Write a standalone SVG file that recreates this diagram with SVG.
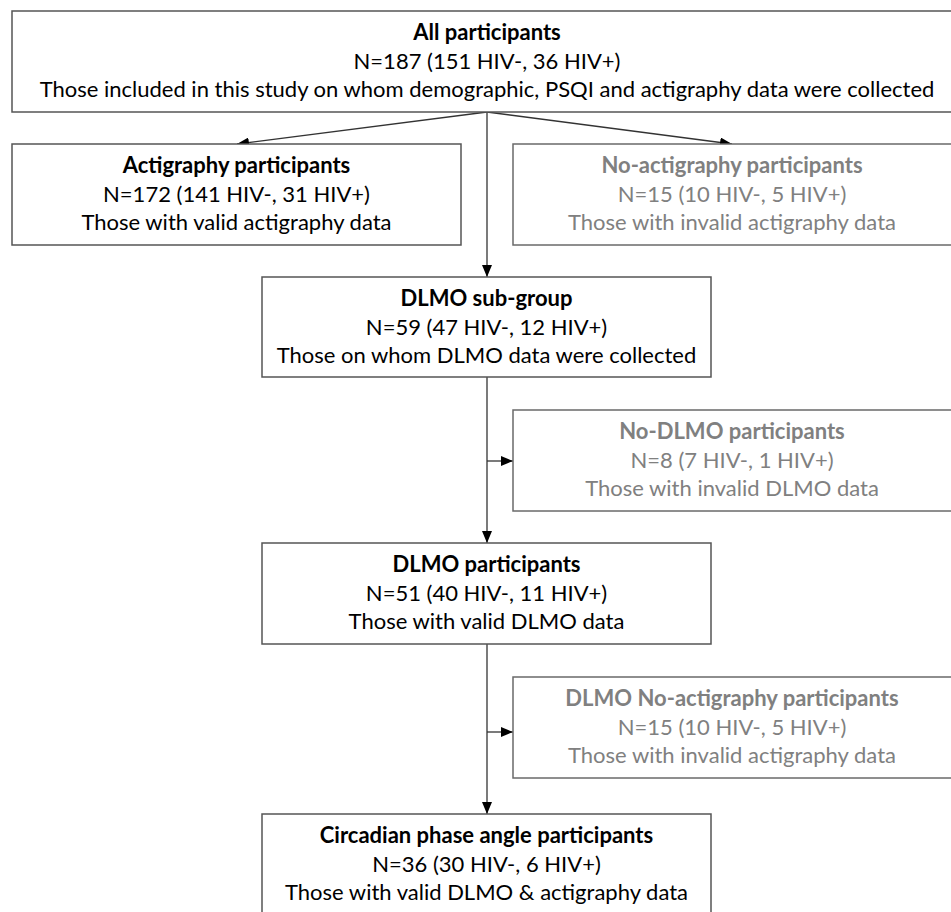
<svg xmlns="http://www.w3.org/2000/svg" width="951" height="912" viewBox="0 0 951 912">
<defs>
<marker id="ah" viewBox="0 0 12 10" refX="12" refY="5" markerWidth="12" markerHeight="10" markerUnits="userSpaceOnUse" orient="auto">
<path d="M0,0 L12,5 L0,10 Z" fill="#000"/>
</marker>
<style>
.box{fill:#fff;stroke:#555;stroke-width:1.5}
.gbox{fill:#fff;stroke:#6a6a6a;stroke-width:1.5}
text{font-family:Lato,"Open Sans","Liberation Sans",sans-serif;font-size:22px;text-anchor:middle;fill:#000}
.t{font-weight:bold}
.g{fill:#808080}
.conn{fill:none;stroke:#333;stroke-width:1.3}
</style>
</defs>
<rect width="951" height="912" fill="#fff"/>
<g id="connectors">
<line class="conn" x1="487" y1="112" x2="237" y2="144" marker-end="url(#ah)"/>
<line class="conn" x1="487" y1="112" x2="732" y2="144" marker-end="url(#ah)"/>
<line class="conn" x1="487" y1="112" x2="487" y2="277" marker-end="url(#ah)"/>
<line class="conn" x1="487" y1="377" x2="487" y2="543" marker-end="url(#ah)"/>
<line class="conn" x1="487" y1="461" x2="513" y2="461" marker-end="url(#ah)"/>
<line class="conn" x1="487" y1="644" x2="487" y2="814" marker-end="url(#ah)"/>
<line class="conn" x1="487" y1="732" x2="513" y2="732" marker-end="url(#ah)"/>
</g>
<g id="all">
<rect class="box" x="12" y="11" width="950" height="101"/>
<text class="t" x="487" y="40">All participants</text>
<text x="487" y="68.5">N=187 (151 HIV-, 36 HIV+)</text>
<text x="487" y="97">Those included in this study on whom demographic, PSQI and actigraphy data were collected</text>
</g>
<g id="actigraphy">
<rect class="box" x="12" y="144" width="449" height="101"/>
<text class="t" x="236.5" y="173">Actigraphy participants</text>
<text x="236.5" y="201.5">N=172 (141 HIV-, 31 HIV+)</text>
<text x="236.5" y="230">Those with valid actigraphy data</text>
</g>
<g id="no-actigraphy">
<rect class="gbox" x="513" y="144" width="442" height="101"/>
<text class="t g" x="732" y="173">No-actigraphy participants</text>
<text class="g" x="732" y="201.5">N=15 (10 HIV-, 5 HIV+)</text>
<text class="g" x="732" y="230">Those with invalid actigraphy data</text>
</g>
<g id="dlmo-subgroup">
<rect class="box" x="262" y="277" width="449" height="100"/>
<text class="t" x="486.5" y="306">DLMO sub-group</text>
<text x="486.5" y="334.5">N=59 (47 HIV-, 12 HIV+)</text>
<text x="486.5" y="363">Those on whom DLMO data were collected</text>
</g>
<g id="no-dlmo">
<rect class="gbox" x="513" y="410" width="442" height="101"/>
<text class="t g" x="732" y="439">No-DLMO participants</text>
<text class="g" x="732" y="467.5">N=8 (7 HIV-, 1 HIV+)</text>
<text class="g" x="732" y="496">Those with invalid DLMO data</text>
</g>
<g id="dlmo-participants">
<rect class="box" x="262" y="543" width="449" height="101"/>
<text class="t" x="486.5" y="572">DLMO participants</text>
<text x="486.5" y="600.5">N=51 (40 HIV-, 11 HIV+)</text>
<text x="486.5" y="629">Those with valid DLMO data</text>
</g>
<g id="dlmo-no-actigraphy">
<rect class="gbox" x="513" y="677" width="442" height="101"/>
<text class="t g" x="732" y="706">DLMO No-actigraphy participants</text>
<text class="g" x="732" y="734.5">N=15 (10 HIV-, 5 HIV+)</text>
<text class="g" x="732" y="763">Those with invalid actigraphy data</text>
</g>
<g id="circadian">
<rect class="box" x="262" y="814" width="449" height="110"/>
<text class="t" x="486.5" y="843">Circadian phase angle participants</text>
<text x="486.5" y="871.5">N=36 (30 HIV-, 6 HIV+)</text>
<text x="486.5" y="900">Those with valid DLMO &amp; actigraphy data</text>
</g>
</svg>
